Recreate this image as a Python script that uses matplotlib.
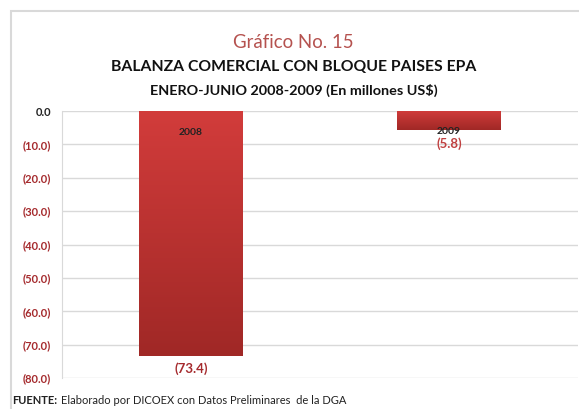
import matplotlib.pyplot as plt
import numpy as np
from matplotlib.patches import Rectangle
from matplotlib.colors import LinearSegmentedColormap

plt.rcParams['font.family'] = ['Lato', 'DejaVu Sans']

# data
years = ['2008', '2009']
balance = [-73.4, -5.8]
ticks = [0, -10, -20, -30, -40, -50, -60, -70, -80]

fig = plt.figure(figsize=(5.79, 4.09), dpi=100)
fig.patch.set_facecolor('white')

# light frame around the chart
fig.patches.append(Rectangle((11 / 579, -0.1), 1.2, (409 - 11) / 409 + 0.1,
                             transform=fig.transFigure, fill=False,
                             edgecolor='#d9d9d9', linewidth=1.5))

ax = fig.add_axes([62 / 579, 31 / 409, 516 / 579, 267 / 409])
x = np.arange(len(years))
bars = ax.bar(x, balance, width=0.4, color='#c23535', zorder=2)

# vertical gradient on each bar
grad = np.linspace(0, 1, 256).reshape(-1, 1)
cmap = LinearSegmentedColormap.from_list('r', ['#d23c3b', '#a02826'])
for b in bars:
    bx, bw, bh = b.get_x(), b.get_width(), b.get_height()
    im = ax.imshow(grad, aspect='auto', cmap=cmap,
                   extent=(bx, bx + bw, bh, 0), zorder=3)
    im.set_clip_path(b)

ax.set_xlim(-0.5, 1.5)
ax.set_ylim(-80, 0)
ax.set_yticks(ticks)
ax.set_yticklabels(['0.0' if t == 0 else '(%.1f)' % abs(t) for t in ticks])
for i, lab in enumerate(ax.get_yticklabels()):
    lab.set_fontweight('bold')
    lab.set_color('#222222' if ticks[i] == 0 else '#a52a2d')
    lab.set_fontsize(8)
ax.set_xticks([])
ax.tick_params(axis='y', length=0, pad=8)
ax.grid(axis='y', color='#d9d9d9', linewidth=1, zorder=0)
for s in ['top', 'right', 'bottom']:
    ax.spines[s].set_visible(False)
ax.spines['left'].set_color('#d9d9d9')

# labels
ax.text(x[0], -6.5, years[0], ha='center', va='center', fontsize=7.5,
        fontweight='bold', color='#222222', zorder=4)
ax.text(x[0], balance[0] - 3.8, '(%.1f)' % abs(balance[0]), ha='center',
        va='center', fontsize=9.5, fontweight='bold', color='#a52a2d')
ax.text(x[1], balance[1] - 0.3, years[1], ha='center', va='center', fontsize=7.5,
        fontweight='bold', color='#222222', zorder=4)
ax.text(x[1], balance[1] - 4.1, '(%.1f)' % abs(balance[1]), ha='center',
        va='center', fontsize=9.5, fontweight='bold', color='#c04040')

# titles
fig.text(0.507, 1 - 42 / 409, 'Gráfico No. 15', ha='center', va='center',
         fontsize=13.4, color='#b5524f')
fig.text(0.507, 1 - 67 / 409, 'BALANZA COMERCIAL CON BLOQUE PAISES EPA',
         ha='center', va='center', fontsize=11.3, fontweight='bold', color='#111111')
fig.text(0.507, 1 - 90 / 409, 'ENERO-JUNIO 2008-2009 (En millones US$)',
         ha='center', va='center', fontsize=10.4, fontweight='bold', color='#111111')

src = fig.text(12 / 579, 1 - 401 / 409, 'FUENTE:', ha='left', va='center',
               fontsize=8, fontweight='bold', color='#222222')
fig.add_artist(plt.Annotation('Elaborado por DICOEX con Datos Preliminares  de la DGA',
                              xy=(1, 0.5), xycoords=src, xytext=(2.5, 0),
                              textcoords='offset points', ha='left', va='center',
                              fontsize=8, color='#222222'))

fig.savefig('out.png', dpi=100)
